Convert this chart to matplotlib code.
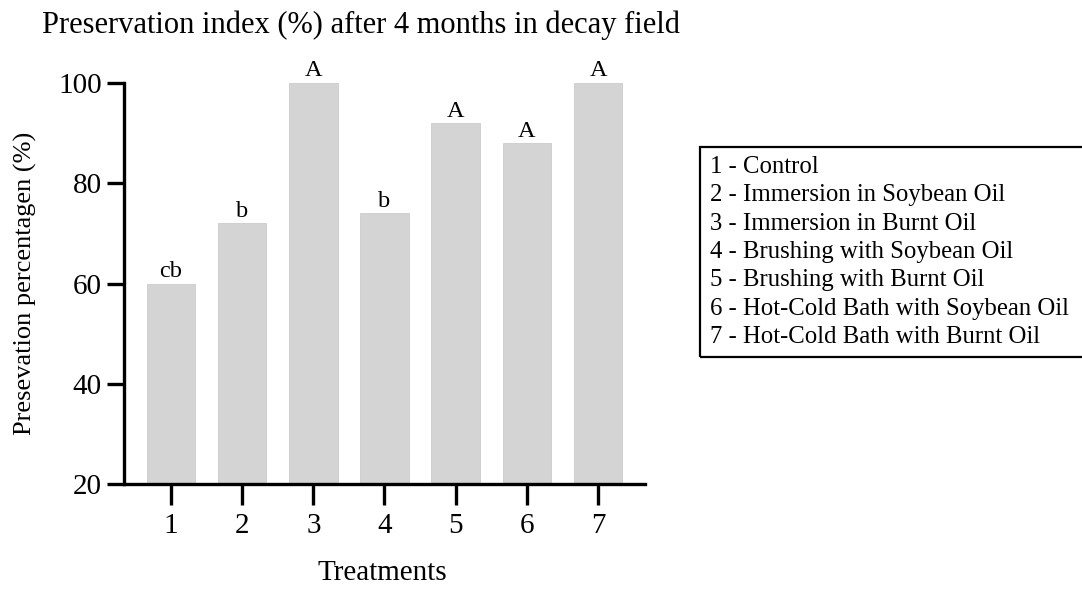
import matplotlib.pyplot as plt
from matplotlib.patches import Rectangle

plt.rcParams['font.family'] = ['Liberation Serif', 'DejaVu Serif']

treatments = [1, 2, 3, 4, 5, 6, 7]
preservation = [60, 72, 100, 74, 92, 88, 100]
letters = ['cb', 'b', 'A', 'b', 'A', 'A', 'A']
legend_lines = [
    '1 - Control',
    '2 - Immersion in Soybean Oil',
    '3 - Immersion in Burnt Oil',
    '4 - Brushing with Soybean Oil',
    '5 - Brushing with Burnt Oil',
    '6 - Hot-Cold Bath with Soybean Oil',
    '7 - Hot-Cold Bath with Burnt Oil',
]

W, H = 1082, 589
fig = plt.figure(figsize=(W / 100, H / 100), dpi=100)
ax = fig.add_axes([124 / W, 1 - 484 / H, 521 / W, 401 / H])

ax.bar(treatments, preservation, width=0.68, color='#d4d4d4',
       edgecolor='#cccccc', linewidth=0.6)
for x, v, s in zip(treatments, preservation, letters):
    ax.text(x, v + 1.3, s, ha='center', va='baseline', fontsize=17.5)

ax.set_xlim(0.34, 7.66)
ax.set_ylim(20, 100)
ax.set_yticks([20, 40, 60, 80, 100])
ax.set_xticks(treatments)
for side in ['top', 'right']:
    ax.spines[side].set_visible(False)
for side in ['left', 'bottom']:
    ax.spines[side].set_linewidth(2.4)
ax.tick_params(axis='both', width=2.4, labelsize=21, colors='black')
ax.tick_params(axis='x', length=15, pad=6)
ax.tick_params(axis='y', length=12, pad=4)

ax.set_xlabel('Treatments', fontsize=21)
ax.xaxis.set_label_coords(0.496, -0.19)
ax.set_ylabel('Presevation percentagen (%)', fontsize=19, va='center')
ax.yaxis.set_label_coords(-0.19, 0.5)

fig.text(42 / W, 1 - 33 / H,
         'Preservation index (%) after 4 months in decay field',
         fontsize=22, ha='left', va='baseline')

# legend box with the treatment key
fig.add_artist(Rectangle((700 / W, 1 - 357 / H), 0.4, 210 / H,
                         transform=fig.transFigure, fill=False,
                         edgecolor='black', linewidth=1.6, clip_on=False))
for i, line in enumerate(legend_lines):
    fig.text(710 / W, 1 - (173 + 28.3 * i) / H, line, fontsize=17.8,
             ha='left', va='baseline')

fig.savefig('out.png', dpi=100)
